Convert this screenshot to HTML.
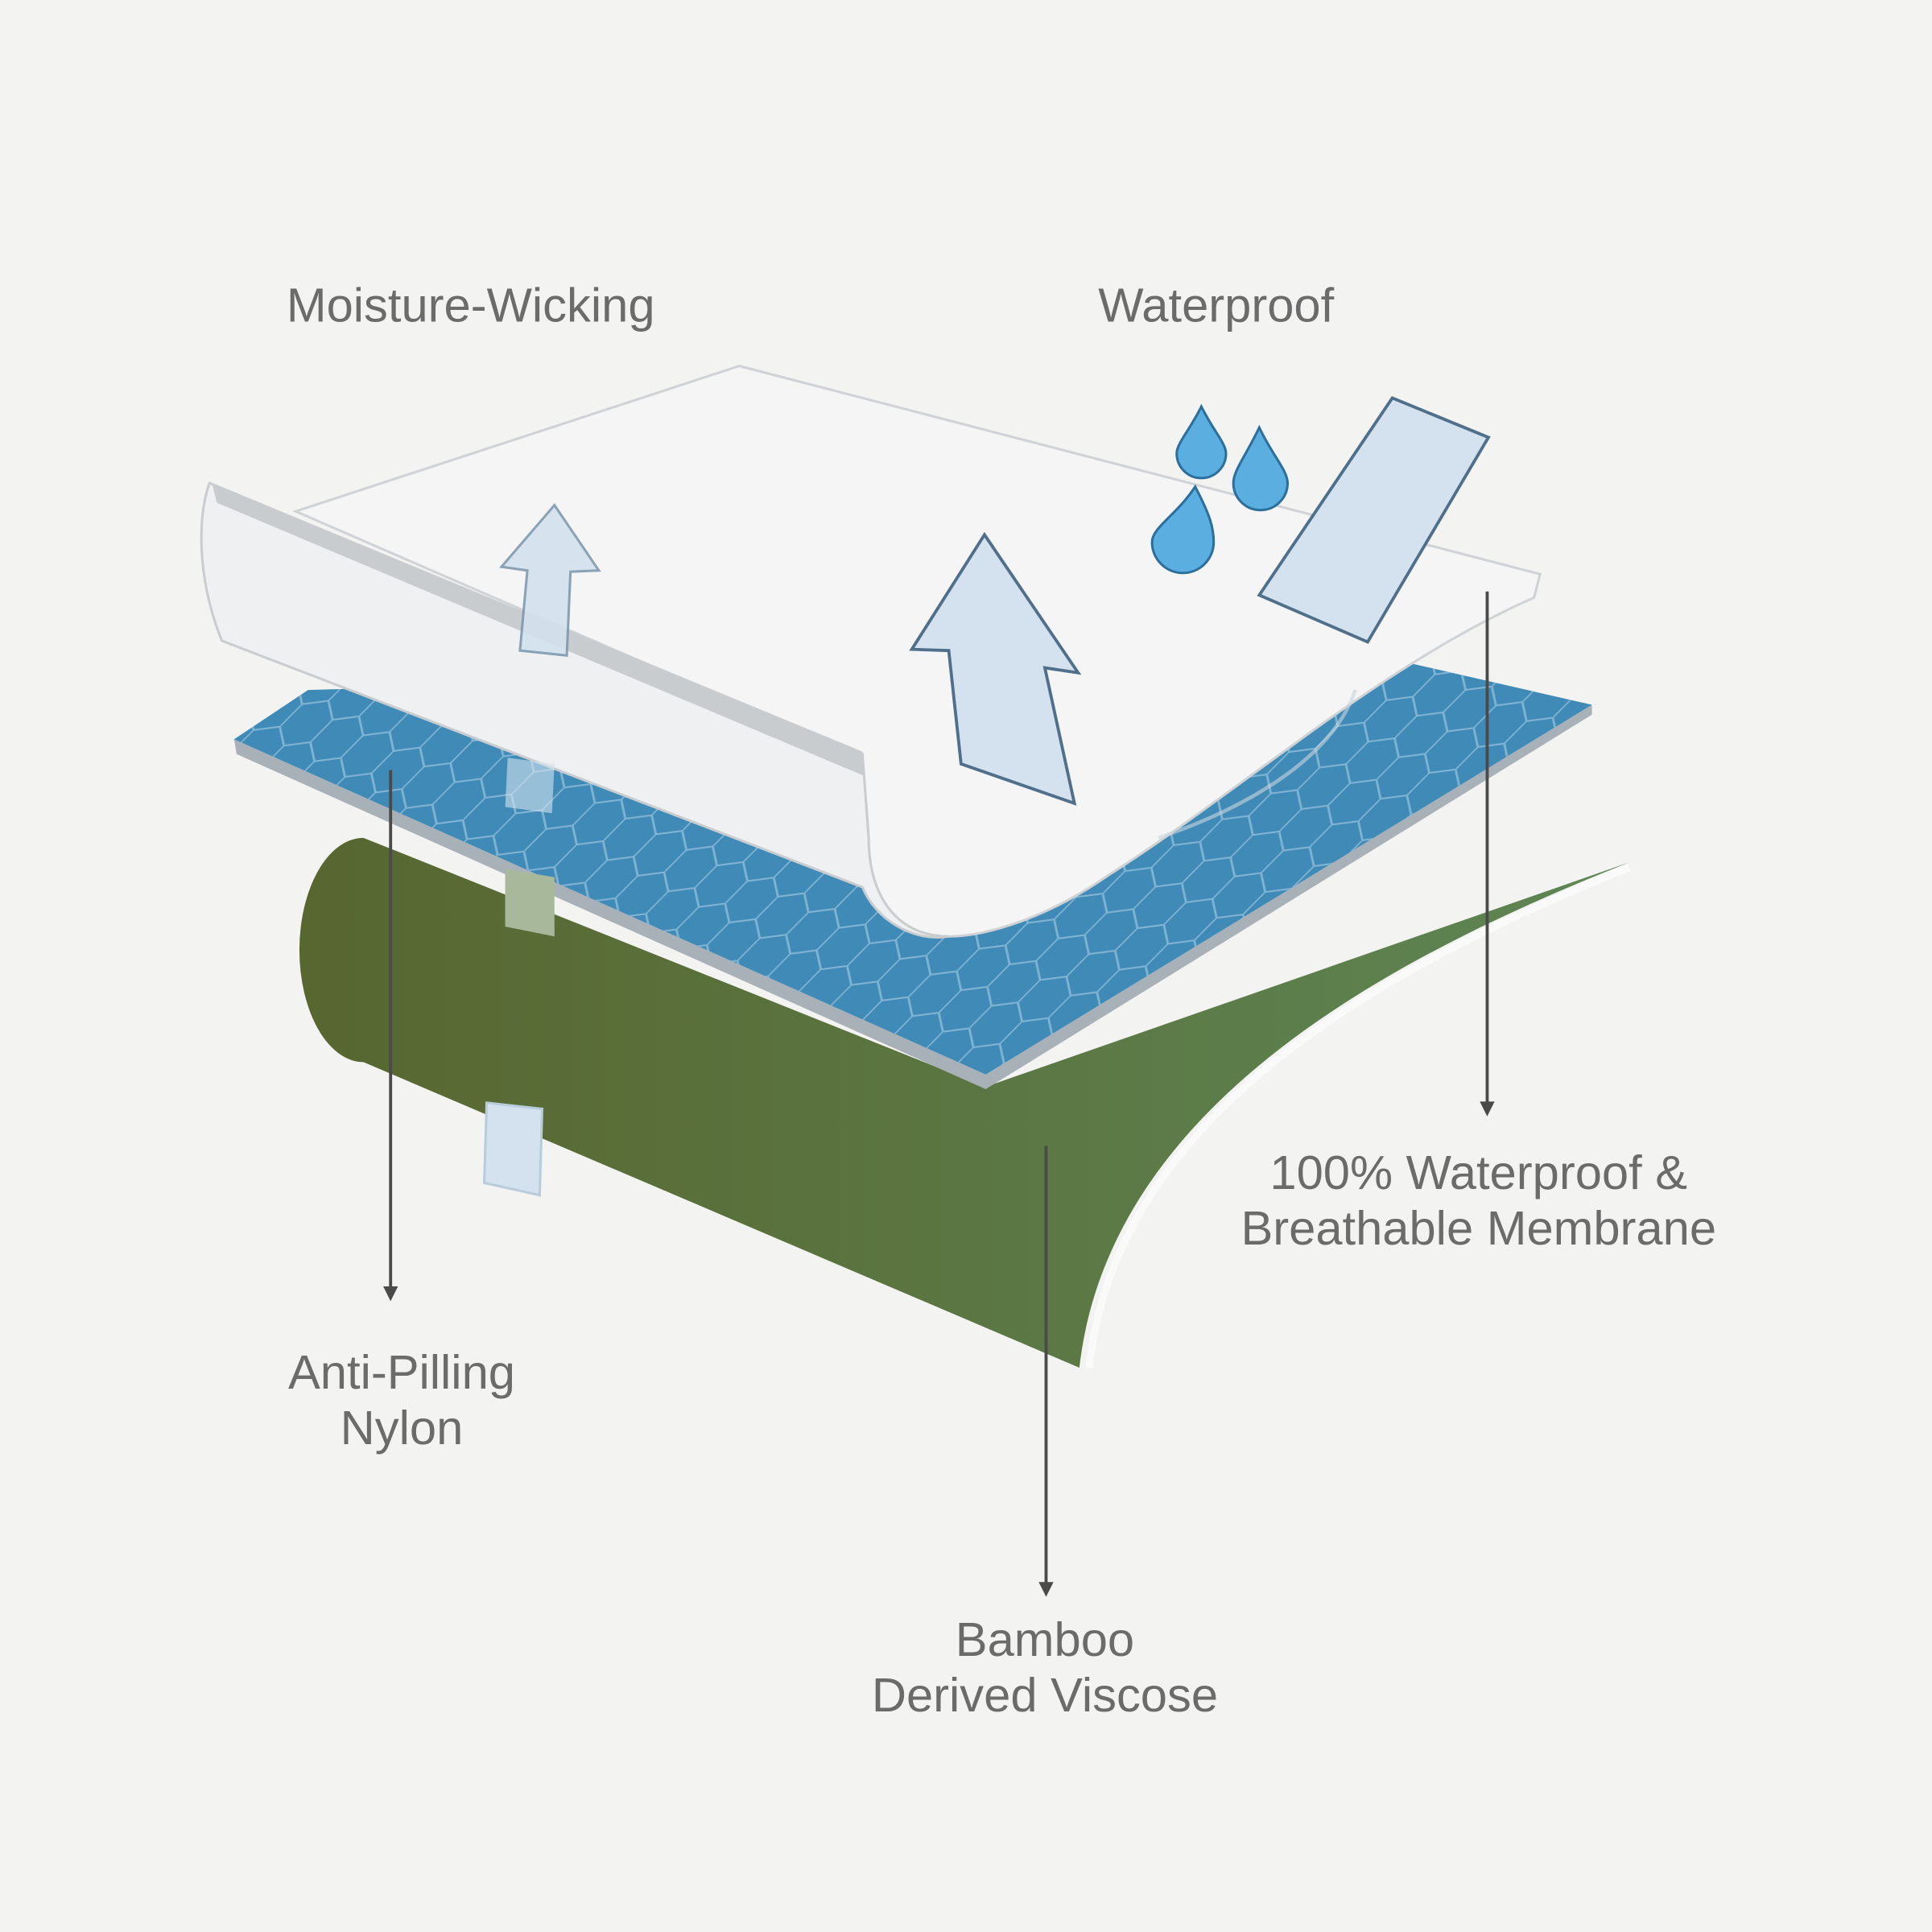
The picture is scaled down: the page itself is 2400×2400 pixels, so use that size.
<!DOCTYPE html>
<html><head><meta charset="utf-8">
<style>
html,body{margin:0;padding:0;background:#f3f3f2;}
svg{display:block;width:2400px;height:2400px;}
text{font-family:"Liberation Sans",sans-serif;fill:#6b6b6b;font-size:39px;text-anchor:middle;}
</style></head><body>
<svg viewBox="0 0 1568 1568" xmlns="http://www.w3.org/2000/svg">
<defs>
<linearGradient id="g" x1="0" y1="0" x2="1" y2="0">
<stop offset="0" stop-color="#586630"/><stop offset="1" stop-color="#5e8654"/>
</linearGradient>
<pattern id="hex" width="60" height="34" patternUnits="userSpaceOnUse" patternTransform="skewX(-30) rotate(-8)">
<path d="M0,17 L10,0 L30,0 L40,17 L30,34 L10,34 Z M40,17 L60,17" fill="none" stroke="#7fb3d3" stroke-width="1.5"/>
</pattern>
</defs>
<rect width="1568" height="1568" fill="#f3f3f2"/>
<!-- green layer -->
<path d="M295,680 L800,882 L1322,700 C1120,780 900,900 876,1110 L295,862 A52,91 0 0 1 295,680 Z" fill="url(#g)"/>
<path d="M1322,704 C1120,786 905,905 884,1110" fill="none" stroke="#fafafa" stroke-width="6"/>
<path d="M395,895 L440,900 L438,970 L393,960 Z" fill="#d3e2ee" stroke="#b8ccdc" stroke-width="2"/>
<!-- blue layer -->
<path d="M190,600 L800,872 L1292,572 L1292,580 L800,884 L192,612 Z" fill="#a8b0b8"/>
<path d="M190,600 L250,560 L1130,535 L1292,572 L800,872 Z" fill="#3f8ab7"/>
<path d="M190,600 L250,560 L1130,535 L1292,572 L800,872 Z" fill="url(#hex)"/>
<path d="M410,705 L450,712 L450,760 L410,752 Z" fill="#a8b89a"/>
<!-- white sheet -->
<path d="M240,415 L600,297 L1250,466 L1245,485 C1120,540 1010,640 900,710 C850,745 800,760 770,760 C730,760 705,730 705,680 L700,615 Z" fill="#f5f5f5" stroke="#cfd3d6" stroke-width="2"/>
<path d="M170,392 L700,612 L705,680 C705,730 730,760 770,760 C740,765 710,745 700,720 L180,520 C160,470 160,420 170,392 Z" fill="#eef0f1" stroke="#c9cdd0" stroke-width="2"/>
<path d="M172,392 L700,610 L702,630 L176,408 Z" fill="#c9cccf"/>
<path d="M1100,560 C1080,620 1000,660 940,680" fill="none" stroke="#c9d6de" stroke-width="3" opacity="0.6"/>
<!-- arrows -->
<path d="M422,528 L428,463 L407,460 L450,410 L486,463 L463,464 L460,532 Z" fill="#d3e2ee" stroke="#7f9ab0" stroke-width="2" opacity="0.9"/>
<path d="M412,615 L450,620 L448,660 L410,655 Z" fill="#d3e2ee" opacity="0.6"/>
<path d="M780,620 L770,528 L740,527 L799,434 L875,546 L848,542 L872,652 Z" fill="#d3e2ee" stroke="#4f6f8b" stroke-width="2.5"/>
<path d="M1130,323 L1208,355 L1110,521 L1022,483 Z" fill="#d3e2ee" stroke="#4f6f8b" stroke-width="2.5"/>
<!-- drops -->
<g fill="#5aaee0" stroke="#2d6f9c" stroke-width="2">
<path d="M975,330 C985,350 995,360 995,368 A20,20 0 0 1 955,368 C955,360 965,350 975,330 Z"/>
<path d="M1022,347 C1033,370 1045,382 1045,392 A22,22 0 0 1 1001,392 C1001,382 1011,370 1022,347 Z"/>
<path d="M970,395 C982,418 985,428 985,440 A22,22 0 0 1 935,440 C935,428 955,418 970,395 Z"/>
</g>
<!-- leader lines -->
<g stroke="#4a4a4a" stroke-width="2.5">
<line x1="317" y1="625" x2="317" y2="1046"/>
<line x1="849" y1="930" x2="849" y2="1286"/>
<line x1="1207" y1="480" x2="1207" y2="896"/>
</g>
<g fill="#4a4a4a">
<path d="M311,1044 L323,1044 L317,1056 Z"/>
<path d="M843,1284 L855,1284 L849,1296 Z"/>
<path d="M1201,894 L1213,894 L1207,906 Z"/>
</g>
<!-- labels -->
<text x="382" y="261">Moisture-Wicking</text>
<text x="987" y="261">Waterproof</text>
<text x="1200" y="965">100% Waterproof &amp;</text>
<text x="1200" y="1010">Breathable Membrane</text>
<text x="326" y="1127">Anti-Pilling</text>
<text x="326" y="1172">Nylon</text>
<text x="848" y="1344">Bamboo</text>
<text x="848" y="1389">Derived Viscose</text>
</svg>
</body></html>
